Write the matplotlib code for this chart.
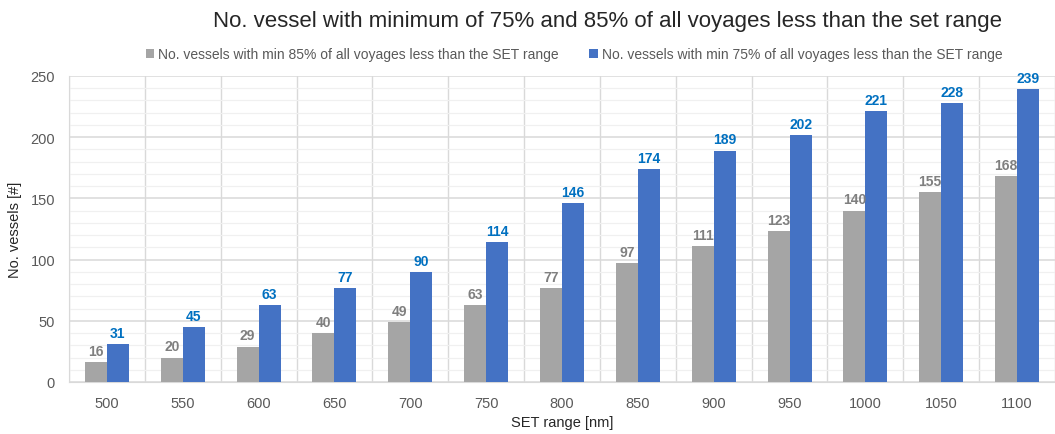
import numpy as np
import matplotlib.pyplot as plt
from matplotlib.ticker import MultipleLocator

plt.rcParams['font.family'] = ['Liberation Sans', 'DejaVu Sans']

set_range = ['500', '550', '600', '650', '700', '750', '800', '850', '900', '950', '1000', '1050', '1100']
min85 = [16, 20, 29, 40, 49, 63, 77, 97, 111, 123, 140, 155, 168]
min75 = [31, 45, 63, 77, 90, 114, 146, 174, 189, 202, 221, 228, 239]

gray = '#A5A5A5'
blue = '#4472C4'

fig = plt.figure(figsize=(10.55, 4.35), dpi=100)
ax = fig.add_axes([69 / 1055, 52 / 435, 1 - 69 / 1055, 306 / 435])

x = np.arange(len(set_range))
w = 0.29
b1 = ax.bar(x - w / 2, min85, w, color=gray, zorder=3,
            label='No. vessels with min 85% of all voyages less than the SET range')
b2 = ax.bar(x + w / 2, min75, w, color=blue, zorder=3,
            label='No. vessels with min 75% of all voyages less than the SET range')

ax.bar_label(b1, padding=3, color='#7F7F7F', fontsize=10, fontweight='bold')
ax.bar_label(b2, padding=3, color='#0070C0', fontsize=10, fontweight='bold')

ax.set_ylim(0, 250)
ax.set_xlim(-0.5, 12.34)
ax.yaxis.set_major_locator(MultipleLocator(50))
ax.yaxis.set_minor_locator(MultipleLocator(10))
ax.set_xticks(x)
ax.set_xticklabels(set_range)
ax.set_xticks(np.arange(-0.5, 13, 1), minor=True)

ax.grid(axis='y', which='major', color='#D9D9D9', linewidth=1.1, zorder=0)
ax.grid(axis='y', which='minor', color='#F0F0F0', linewidth=0.9, zorder=0)
ax.grid(axis='x', which='minor', color='#D9D9D9', linewidth=1.0, zorder=0)
ax.grid(axis='x', which='major', visible=False)

ax.tick_params(axis='both', which='both', length=0, colors='#595959', labelsize=10.5)
ax.tick_params(axis='x', pad=10)
ax.tick_params(axis='y', pad=10)

for s in ['top', 'right']:
    ax.spines[s].set_visible(False)
ax.spines['left'].set_color('#D9D9D9')
ax.spines['bottom'].set_color('#D9D9D9')

ax.set_xlabel('SET range [nm]', fontsize=10.5, color='#262626', labelpad=4)
ax.set_ylabel('No. vessels [#]', fontsize=10.5, color='#262626', labelpad=6)

fig.text(0.576, 1 - 22 / 435, 'No. vessel with minimum of 75% and 85% of all voyages less than the set range',
         ha='center', va='center', fontsize=16, color='#262626')
fig.legend(handles=[b1, b2], loc='center', bbox_to_anchor=(0.544, 1 - 55 / 435), ncol=2,
           frameon=False, fontsize=10, labelcolor='#595959', handlelength=0.6, handleheight=0.6,
           columnspacing=2.2, handletextpad=0.3)

fig.savefig('out.png', dpi=100)
